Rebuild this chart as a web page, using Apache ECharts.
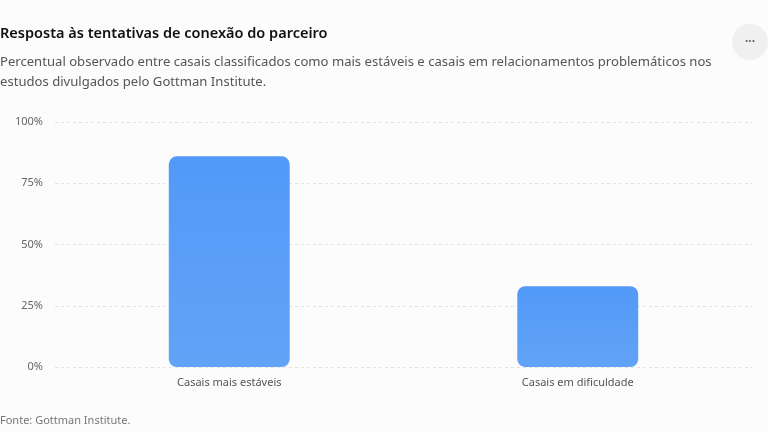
<!DOCTYPE html>
<html>
<head>
<meta charset="utf-8">
<script src="https://cdn.jsdelivr.net/npm/echarts@6/dist/echarts.min.js"></script>
<style>
html,body{margin:0;padding:0;background:#fcfcfc;}
#c{width:768px;height:432px;}
</style>
</head>
<body>
<div id="c"></div>
<script>
const titleText = 'Resposta às tentativas de conexão do parceiro';
const subtitleText = 'Percentual observado entre casais classificados como mais estáveis e casais em relacionamentos problemáticos nos\nestudos divulgados pelo Gottman Institute.';
const sourceText = 'Fonte: Gottman Institute.';
const categories = ['Casais mais estáveis', 'Casais em dificuldade'];
const values = [86, 33];
const yTicks = [0, 25, 50, 75, 100];

const FONT = '"Noto Sans", sans-serif';
const chart = echarts.init(document.getElementById('c'));
chart.setOption({
  backgroundColor: '#fcfcfc',
  textStyle: { fontFamily: FONT },
  title: [
    { text: titleText, left: 0, top: 26, padding: 0,
      textStyle: { fontSize: 14.5, fontWeight: 600, color: '#111', fontFamily: FONT } },
    { text: subtitleText, left: 0, top: 52, padding: 0,
      textStyle: { fontSize: 13.1, fontWeight: 'normal', color: '#555', lineHeight: 20.5, fontFamily: FONT } },
    { text: sourceText, left: 0, top: 415, padding: 0,
      textStyle: { fontSize: 11, fontWeight: 'normal', color: '#777', fontFamily: FONT } }
  ],
  graphic: [
    { type: 'circle', shape: { cx: 750, cy: 42, r: 18 }, style: { fill: '#f0f0f0' }, silent: true },
    { type: 'text', x: 750, y: 42, style: { text: '···', fill: '#666', font: 'bold 12px ' + FONT, align: 'center', verticalAlign: 'middle' } }
  ],
  grid: { left: 55, right: 16, top: 122, bottom: 65, containLabel: false },
  xAxis: {
    type: 'category',
    data: categories,
    axisLine: { show: false },
    axisTick: { show: false },
    axisLabel: { color: '#555', fontSize: 11, margin: 10, fontFamily: FONT }
  },
  yAxis: {
    type: 'value',
    min: yTicks[0], max: yTicks[yTicks.length - 1], interval: 25,
    axisLine: { show: false },
    axisTick: { show: false },
    axisLabel: { color: '#666', fontSize: 11, margin: 12, formatter: v => v + '%', fontFamily: FONT },
    splitLine: { lineStyle: { color: '#e2e2e2', type: [3, 3] } }
  },
  series: [{
    type: 'bar',
    data: values,
    barWidth: '34.7%',
    itemStyle: {
      borderRadius: 8,
      color: new echarts.graphic.LinearGradient(0, 0, 0, 1, [
        { offset: 0, color: '#5299f8' },
        { offset: 1, color: '#62a3f7' }
      ])
    }
  }]
});
</script>
</body>
</html>
